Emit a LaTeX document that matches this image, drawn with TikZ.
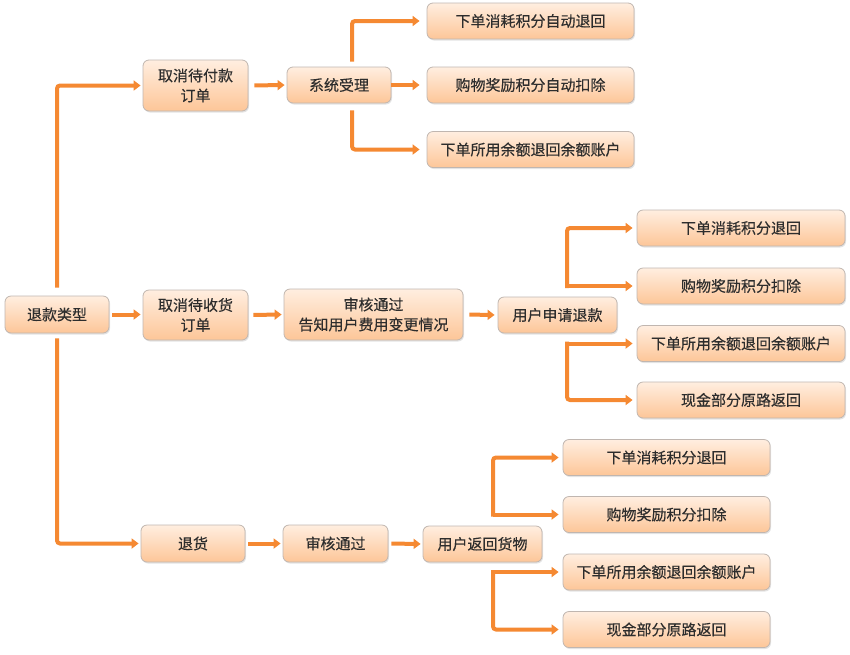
\documentclass[tikz,border=0pt]{standalone}
\usepackage{fontspec}
\newfontfamily\cjk{Noto Sans CJK SC}[FakeBold=0.3]
\usetikzlibrary{arrows.meta,shadows,calc}
\definecolor{arr}{RGB}{245,137,50}
\definecolor{boxtop}{RGB}{255,238,224}
\definecolor{boxbot}{RGB}{253,198,152}
\definecolor{boxline}{RGB}{192,182,176}
\definecolor{txt}{RGB}{45,45,45}
\begin{document}
\begin{tikzpicture}[x=1pt,y=-1pt,
  box/.style={draw=boxline, line width=0.8pt, rounded corners=6pt,
    top color=boxtop, bottom color=boxbot, text=txt,
    font=\cjk\fontsize{15}{20}\selectfont, align=center, inner sep=0pt,
    drop shadow={opacity=0.22, shadow xshift=1pt, shadow yshift=-1.5pt}},
  conn/.style={draw=arr, line width=4pt, rounded corners=3pt,
    -{Triangle[length=7pt,width=10pt]}},
]
\useasboundingbox (0,0) rectangle (850,654);
% column 0
\node[box, minimum width=104pt, minimum height=37pt] (t) at (57,314.5) {退款类型};
% top row
\node[box, minimum width=105pt, minimum height=51pt] (a1) at (195.5,85.5) {取消待付款\\订单};
\node[box, minimum width=104pt, minimum height=36pt] (a2) at (339,85) {系统受理};
\node[box, minimum width=207pt, minimum height=36pt] (a3) at (530.5,21) {下单消耗积分自动退回};
\node[box, minimum width=207pt, minimum height=36pt] (a4) at (530.5,85) {购物奖励积分自动扣除};
\node[box, minimum width=207pt, minimum height=36pt] (a5) at (530.5,149.5) {下单所用余额退回余额账户};
% middle row
\node[box, minimum width=105pt, minimum height=50pt] (b1) at (195.5,315) {取消待收货\\订单};
\node[box, minimum width=179pt, minimum height=51pt] (b2) at (373.5,314.5) {审核通过\\告知用户费用变更情况};
\node[box, minimum width=119pt, minimum height=36pt] (b3) at (557.5,315) {用户申请退款};
\node[box, minimum width=208pt, minimum height=36pt] (b4) at (741,228) {下单消耗积分退回};
\node[box, minimum width=208pt, minimum height=36pt] (b5) at (741,286) {购物奖励积分扣除};
\node[box, minimum width=208pt, minimum height=36pt] (b6) at (741,343.5) {下单所用余额退回余额账户};
\node[box, minimum width=208pt, minimum height=36pt] (b7) at (741,400) {现金部分原路返回};
% bottom row
\node[box, minimum width=104pt, minimum height=37pt] (c1) at (193,543.5) {退货};
\node[box, minimum width=105pt, minimum height=37pt] (c2) at (335.5,543.5) {审核通过};
\node[box, minimum width=119pt, minimum height=36pt] (c3) at (482.5,544) {用户返回货物};
\node[box, minimum width=207pt, minimum height=36pt] (c4) at (666.5,457.5) {下单消耗积分退回};
\node[box, minimum width=207pt, minimum height=36pt] (c5) at (666.5,514.5) {购物奖励积分扣除};
\node[box, minimum width=207pt, minimum height=36pt] (c6) at (666.5,572) {下单所用余额退回余额账户};
\node[box, minimum width=207pt, minimum height=36pt] (c7) at (666.5,629.5) {现金部分原路返回};
% branch coordinates
\coordinate (ax) at ($(a2.north)+(13,0)$);
\coordinate (bx) at ($(b3.north)+(9.5,0)$);
\coordinate (cx) at ($(c3.north)+(10.5,0)$);
% connectors
\draw[conn, shorten <=8pt, shorten >=2pt] (t.north) |- (a1.west);
\draw[conn, shorten <=5pt, shorten >=2pt] (t.south) |- (c1.west);
\draw[conn, shorten <=3pt, shorten >=2pt] (t.east) -- (t.east -| b1.west);
\draw[conn, shorten <=6pt, shorten >=2pt] (a1.east) -- (a2.west);
\draw[conn, shorten <=5pt, shorten >=7pt] (ax) |- (a3.west);
\draw[conn, shorten <=0pt, shorten >=7pt] (a2.east) -- (a4.west);
\draw[conn, shorten <=7pt, shorten >=7pt] (ax |- a2.south) |- (a5.west);
\draw[conn, shorten <=5pt, shorten >=2pt] (b1.east) -- (b2.west);
\draw[conn, shorten <=6pt, shorten >=3pt] (b2.east) -- (b3.west);
\draw[conn, line cap=rect, shorten >=4pt] (bx |- b5.west) |- (b4.west);
\draw[conn, shorten >=4pt] (bx |- b5.west) -- (b5.west);
\draw[conn, line cap=rect, shorten >=4pt] (bx |- b6.west) |- (b7.west);
\draw[conn, shorten >=4pt] (bx |- b6.west) -- (b6.west);
\draw[conn, shorten <=3pt, shorten >=2pt] (c1.east) -- (c2.west);
\draw[conn, shorten <=3pt, shorten >=2pt] (c2.east) -- (c3.west);
\draw[conn, line cap=rect, shorten >=4pt] (cx |- c5.west) |- (c4.west);
\draw[conn, shorten >=4pt] (cx |- c5.west) -- (c5.west);
\draw[conn, line cap=rect, shorten >=4pt] (cx |- c6.west) |- (c7.west);
\draw[conn, shorten >=4pt] (cx |- c6.west) -- (c6.west);
\end{tikzpicture}
\end{document}
